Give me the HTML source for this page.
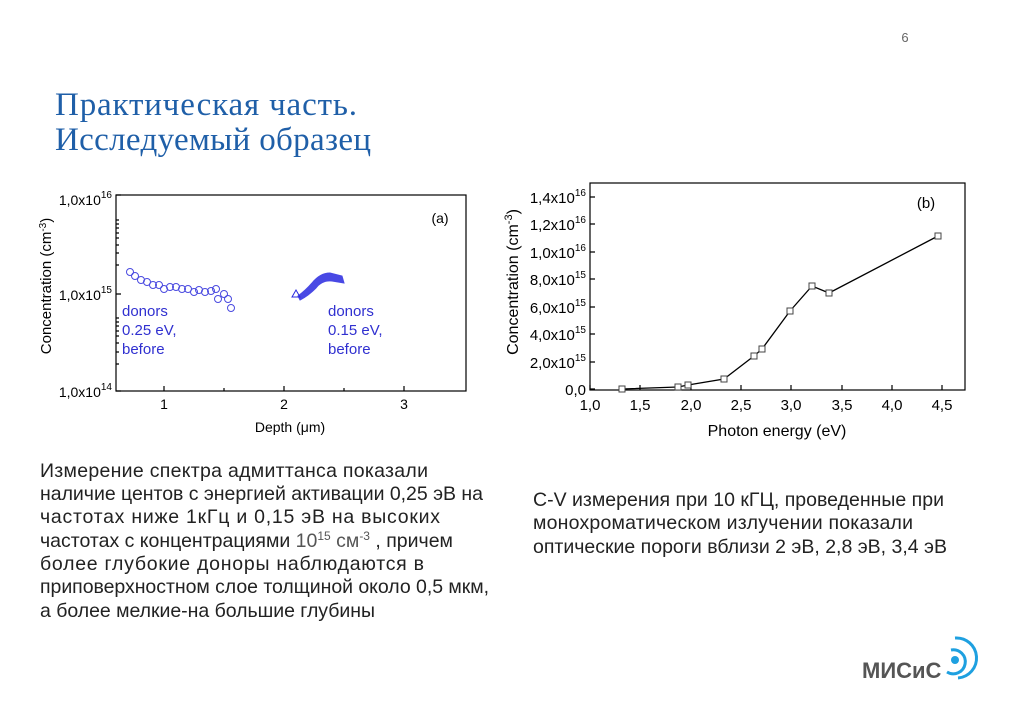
<!DOCTYPE html>
<html><head><meta charset="utf-8"><style>
body{margin:0;background:#fff;width:1024px;height:723px;overflow:hidden;font-family:"Liberation Sans",sans-serif}
</style></head><body>
<svg width="1024" height="723" xmlns="http://www.w3.org/2000/svg" font-family="Liberation Sans, sans-serif">
<text x="905" y="42" font-size="13" fill="#666" text-anchor="middle">6</text>
<text x="55" y="115" font-family="Liberation Serif, serif" font-size="33" fill="#1f5fa8" textLength="302">Практическая часть.</text>
<text x="55" y="150" font-family="Liberation Serif, serif" font-size="33" fill="#1f5fa8" textLength="316">Исследуемый образец</text>

<!-- Chart a -->
<g stroke="#000" fill="none" stroke-width="1.2">
<rect x="116" y="195" width="350" height="196"/>
<path d="M164 391v-5M284 391v-5M404 391v-5M224 391v-3M344 391v-3M116 195h5M116 294h5M116 391h5"/>
<path d="M116 265h3M116 253h3M116 245h3M116 238h3M116 233h3M116 228h3M116 224h3M116 220h3M116 364h3M116 352h3M116 343h3M116 336h3M116 331h3M116 326h3M116 322h3M116 318h3"/>
</g>
<g font-size="14" fill="#000">
<text x="112" y="205" text-anchor="end">1,0x10<tspan dy="-7" font-size="10">16</tspan></text>
<text x="112" y="300" text-anchor="end">1,0x10<tspan dy="-7" font-size="10">15</tspan></text>
<text x="112" y="397" text-anchor="end">1,0x10<tspan dy="-7" font-size="10">14</tspan></text>
<text x="164" y="409" text-anchor="middle">1</text>
<text x="284" y="409" text-anchor="middle">2</text>
<text x="404" y="409" text-anchor="middle">3</text>
<text x="290" y="432" text-anchor="middle">Depth (μm)</text>
<text x="440" y="223" text-anchor="middle">(a)</text>
<text transform="translate(51 286) rotate(-90)" text-anchor="middle" font-size="15">Concentration (cm<tspan dy="-5" font-size="10">-3</tspan><tspan dy="5">)</tspan></text>
</g>
<g fill="none" stroke="#4a4ae0" stroke-width="1">
<circle cx="130" cy="272" r="3.5"/><circle cx="135" cy="276" r="3.5"/><circle cx="141" cy="280" r="3.5"/><circle cx="147" cy="282" r="3.5"/><circle cx="153" cy="285" r="3.5"/><circle cx="159" cy="285" r="3.5"/><circle cx="164" cy="289" r="3.5"/><circle cx="170" cy="287" r="3.5"/><circle cx="176" cy="287" r="3.5"/><circle cx="182" cy="289" r="3.5"/><circle cx="188" cy="289" r="3.5"/><circle cx="194" cy="292" r="3.5"/><circle cx="199" cy="290" r="3.5"/><circle cx="205" cy="292" r="3.5"/><circle cx="211" cy="291" r="3.5"/><circle cx="216" cy="289" r="3.5"/><circle cx="218" cy="299" r="3.5"/><circle cx="224" cy="294" r="3.5"/><circle cx="228" cy="299" r="3.5"/><circle cx="231" cy="308" r="3.5"/>
</g>
<g fill="#2a2ae0" stroke="#2a2ae0">
<path d="M292 297 L296 290 L300 297Z" fill="none"/>
<path d="M298 296 Q306 290 312 283 Q320 273 330 273 L342 276 L344 283 L332 281 Q322 280 316 288 Q308 296 300 300Z" opacity="0.85"/>
</g>
<g font-size="15" fill="#3030d0">
<text x="122" y="316">donors</text><text x="122" y="335">0.25 eV,</text><text x="122" y="354">before</text>
<text x="328" y="316">donors</text><text x="328" y="335">0.15 eV,</text><text x="328" y="354">before</text>
</g>

<!-- Chart b -->
<g stroke="#000" fill="none" stroke-width="1.2">
<rect x="590" y="183" width="375" height="207"/>
<path d="M590 390v-5M640 390v-5M691 390v-5M741 390v-5M791 390v-5M842 390v-5M892 390v-5M942 390v-5"/>
<path d="M590 389h5M590 362h5M590 334h5M590 307h5M590 279h5M590 252h5M590 224h5M590 197h5"/>
</g>
<g font-size="15" fill="#000" text-anchor="end">
<text x="586" y="395">0,0</text>
<text x="586" y="368">2,0x10<tspan dy="-7" font-size="10">15</tspan></text>
<text x="586" y="340">4,0x10<tspan dy="-7" font-size="10">15</tspan></text>
<text x="586" y="313">6,0x10<tspan dy="-7" font-size="10">15</tspan></text>
<text x="586" y="285">8,0x10<tspan dy="-7" font-size="10">15</tspan></text>
<text x="586" y="258">1,0x10<tspan dy="-7" font-size="10">16</tspan></text>
<text x="586" y="230">1,2x10<tspan dy="-7" font-size="10">16</tspan></text>
<text x="586" y="203">1,4x10<tspan dy="-7" font-size="10">16</tspan></text>
</g>
<g font-size="15" fill="#000" text-anchor="middle">
<text x="590" y="410">1,0</text><text x="640" y="410">1,5</text><text x="691" y="410">2,0</text><text x="741" y="410">2,5</text><text x="791" y="410">3,0</text><text x="842" y="410">3,5</text><text x="892" y="410">4,0</text><text x="942" y="410">4,5</text>
<text x="777" y="436" font-size="16">Photon energy (eV)</text>
<text x="926" y="208">(b)</text>
<text transform="translate(518 282) rotate(-90)" font-size="16">Concentration (cm<tspan dy="-6" font-size="11">-3</tspan><tspan dy="6">)</tspan></text>
</g>
<polyline fill="none" stroke="#000" stroke-width="1.3" points="622,389 678,387 688,385 724,379 754,356 762,349 790,311 812,286 829,293 938,236"/>
<g fill="#fff" stroke="#444" stroke-width="1">
<rect x="619" y="386" width="6" height="6"/><rect x="675" y="384" width="6" height="6"/><rect x="685" y="382" width="6" height="6"/><rect x="721" y="376" width="6" height="6"/><rect x="751" y="353" width="6" height="6"/><rect x="759" y="346" width="6" height="6"/><rect x="787" y="308" width="6" height="6"/><rect x="809" y="283" width="6" height="6"/><rect x="826" y="290" width="6" height="6"/><rect x="935" y="233" width="6" height="6"/>
</g>

<g font-size="19.5" fill="#222">
<text x="40" y="477" textLength="388">Измерение спектра адмиттанса показали</text>
<text x="40" y="500" textLength="443">наличие центов с энергией активации 0,25 эВ на</text>
<text x="40" y="523" textLength="400">частотах ниже 1кГц и 0,15 эВ на высоких</text>
<text x="40" y="547">частотах с концентрациями <tspan fill="#555">10<tspan dy="-7" font-size="12">15</tspan><tspan dy="7"> см</tspan><tspan dy="-7" font-size="12">-3</tspan></tspan><tspan dy="7"> , причем</tspan></text>
<text x="40" y="570" textLength="384">более глубокие доноры наблюдаются в</text>
<text x="40" y="593" textLength="449">приповерхностном слое толщиной около 0,5 мкм,</text>
<text x="40" y="617" textLength="335">а более мелкие-на большие глубины</text>
<text x="533" y="506" textLength="411">C-V измерения при 10 кГЦ, проведенные при</text>
<text x="533" y="529" textLength="380">монохроматическом излучении показали</text>
<text x="533" y="553" textLength="414">оптические пороги вблизи 2 эВ, 2,8 эВ, 3,4 эВ</text>
</g>

<text x="862" y="678" font-size="22" font-weight="bold" fill="#555">МИСиС</text>
<g fill="none" stroke="#1ea0e0" stroke-width="3">
<path d="M951 650 A12 12 0 1 1 947 672"/>
<path d="M955 638 A20 20 0 0 1 958 678"/>
</g>
<circle cx="955" cy="660" r="4" fill="#1ea0e0"/>
</svg>
</body></html>
